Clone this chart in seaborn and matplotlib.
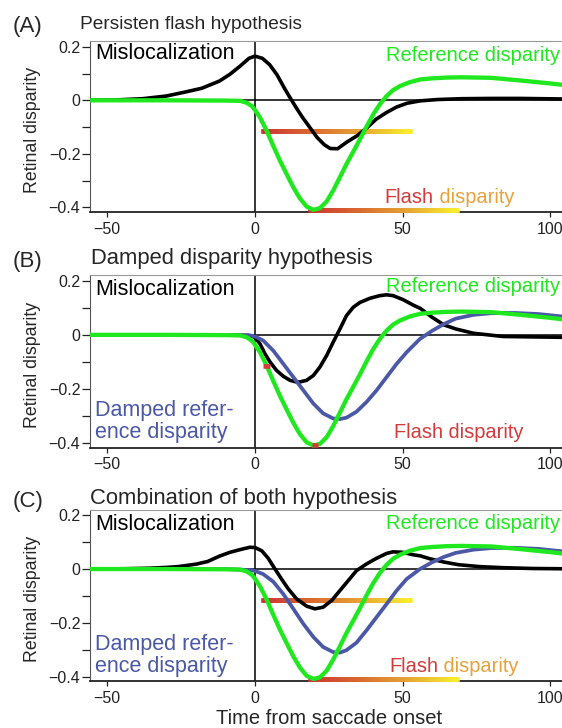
import numpy as np
import matplotlib
matplotlib.use("Agg")
import matplotlib.pyplot as plt
import seaborn as sns
from matplotlib.collections import LineCollection
from matplotlib.colors import LinearSegmentedColormap

# --- data (time in ms from saccade onset) ---
x_ticks = [-50, 0, 50, 100]
x_tick_labels = ["\u221250", "0", "50", "100"]
y_ticks = [-0.4, -0.3, -0.2, -0.1, 0, 0.1, 0.2]
y_tick_labels = ["\u22120.4", "", "\u22120.2", "", "0", "", "0.2"]

# reference disparity (same curve in all three panels)
ref_t = [-56, -30, -10, -5, -2.8, -1, 0, 1.7, 4, 6.2, 8.5, 10.7, 13, 15.2, 17.5, 19.8, 22, 24.3, 26.5, 28.8,
         31, 33.3, 35.6, 37.8, 40.1, 42.3, 44.6, 46.8, 49.1, 52.5, 56, 60, 65, 70, 80, 90, 100, 104]
ref_v = [0, 0, -0.001, -0.002, -0.009, -0.022, -0.036, -0.064, -0.114, -0.17, -0.226, -0.275, -0.325, -0.366,
         -0.397, -0.409, -0.403, -0.378, -0.337, -0.287, -0.238, -0.192, -0.145, -0.098, -0.052, -0.015, 0.016,
         0.038, 0.053, 0.068, 0.078, 0.082, 0.085, 0.086, 0.084, 0.074, 0.063, 0.058]

# mislocalization, panel A
misA_t = [-56, -46, -38, -30, -24, -18, -12, -8.5, -5, -2, 0, 2.5, 5, 7.5, 10, 12, 14, 16, 18.5, 21,
          23.5, 25.5, 28, 31, 34.5, 38, 41, 44.5, 48, 51.5, 56, 62, 70, 80, 90, 104]
misA_v = [0, 0.002, 0.006, 0.016, 0.03, 0.045, 0.072, 0.097, 0.128, 0.157, 0.165, 0.157, 0.133, 0.095, 0.045,
          0.008, -0.028, -0.062, -0.1, -0.138, -0.166, -0.18, -0.181, -0.157, -0.133, -0.102, -0.071, -0.046,
          -0.025, -0.011, -0.002, 0.003, 0.006, 0.007, 0.007, 0.005]

# mislocalization, panel B
misB_t = [-56, -10, -2, 0, 1.7, 3.4, 5.1, 7.3, 9.6, 11.9, 14, 15.2, 17.5, 19.8, 22, 24.3, 26.5, 28.8, 31, 33.3,
          35.6, 38.9, 42.3, 44.6, 46.8, 50.2, 53.6, 56, 60, 64, 68, 74, 84, 104]
misB_v = [0, 0, -0.002, -0.009, -0.033, -0.07, -0.1, -0.131, -0.153, -0.168, -0.174, -0.174, -0.168, -0.15,
          -0.119, -0.076, -0.027, 0.022, 0.071, 0.102, 0.12, 0.135, 0.145, 0.148, 0.145, 0.13, 0.11, 0.098,
          0.065, 0.037, 0.022, 0.006, -0.006, -0.009]

# mislocalization, panel C
misC_t = [-56, -44, -36, -30, -26, -20, -16, -12, -8.5, -5.1, -1.7, 0, 2.3, 4.5, 6.8, 9, 11.3, 14.1, 17.5, 20.3,
          23.1, 26, 28.8, 31.6, 34.4, 37.8, 41.2, 44.6, 46.8, 50.2, 53.6, 56, 59.3, 64, 69, 76, 84, 94, 104]
misC_v = [0, 0.001, 0.003, 0.006, 0.009, 0.018, 0.028, 0.048, 0.062, 0.072, 0.081, 0.08, 0.068, 0.04, 0.0,
          -0.037, -0.074, -0.111, -0.138, -0.148, -0.142, -0.117, -0.08, -0.043, -0.006, 0.019, 0.04, 0.058,
          0.064, 0.062, 0.053, 0.049, 0.038, 0.026, 0.016, 0.009, 0.005, 0.002, 0.001]

# damped reference disparity, panels B and C
dampB_t = [-56, -10, -1.7, 0, 2.8, 6.2, 9.6, 13, 16.4, 19.8, 23.1, 26.5, 28.8, 31, 34.4, 37.8, 41.2, 44.6, 48,
           51.4, 55.9, 60, 64, 68, 74, 80, 88, 96, 104]
dampB_v = [0, 0, -0.002, -0.006, -0.021, -0.058, -0.107, -0.156, -0.205, -0.254, -0.29, -0.309, -0.311, -0.306,
           -0.284, -0.248, -0.205, -0.156, -0.107, -0.064, -0.015, 0.015, 0.04, 0.06, 0.074, 0.08, 0.081, 0.077,
           0.068]
dampC_t = dampB_t
dampC_v = [0, 0, -0.004, -0.007, -0.019, -0.047, -0.093, -0.148, -0.204, -0.253, -0.29, -0.309, -0.311, -0.302,
           -0.274, -0.228, -0.179, -0.13, -0.08, -0.037, 0.0, 0.025, 0.045, 0.06, 0.072, 0.078, 0.079, 0.075,
           0.066]

# flash disparity bars: start, end, level
persist_start = [2.8, 18.6]
persist_end = [52.5, 68.4]
persist_level = [-0.114, -0.409]
brief_start = [2.8, 19.2]
brief_end = [5.1, 21.2]
brief_level = [-0.115, -0.408]

GREEN = "#1fe81f"
BLUE = "#4a58a6"
RED = "#d43a3a"
ORANGE = "#e8a23a"
flash_cmap = LinearSegmentedColormap.from_list(
    "flash", ["#cc3333", "#d9692f", "#e6a233", "#f8ec2c"])

sns.set_style("ticks")
plt.rcParams["font.family"] = ["Liberation Sans", "DejaVu Sans"]

fig = plt.figure(figsize=(5.62, 7.28), dpi=100)

panels = [
    dict(letter="(A)", title="Persisten flash hypothesis", tsize=13.8, rect=[0.1594, 0.7089, 0.8406, 0.2342],
         head_y=0.9602, title_x=0.1423, mis=(misA_t, misA_v), damp=None, persist=True,
         mis_y=0.153, ref_y=0.148, flash_x=44.0, two_tone=True),
    dict(letter="(B)", title="Damped disparity hypothesis", tsize=15.8, rect=[0.1594, 0.385, 0.8406, 0.2368],
         head_y=0.6374, title_x=0.1626, mis=(misB_t, misB_v), damp=(dampB_t, dampB_v), persist=False,
         mis_y=0.147, ref_y=0.157, flash_x=47.1, two_tone=False),
    dict(letter="(C)", title="Combination of both hypothesis", tsize=15.8, rect=[0.1594, 0.0644, 0.8406, 0.2352],
         head_y=0.3077, title_x=0.1594, mis=(misC_t, misC_v), damp=(dampC_t, dampC_v), persist=True,
         mis_y=0.146, ref_y=0.149, flash_x=45.4, two_tone=True),
]


def flash_bar(ax, t0, t1, level):
    # red -> orange -> yellow bar, built from short overlapping pieces
    xs = np.linspace(t0, t1, 120)
    ys = np.full_like(xs, level)
    pts = np.column_stack([xs, ys])
    segs = np.stack([pts[:-1], pts[1:]], axis=1)
    lc = LineCollection(segs, colors=flash_cmap(np.linspace(0, 1, len(segs))),
                        linewidths=3.3, capstyle="projecting", zorder=2.7, clip_on=False)
    ax.add_collection(lc)


for p in panels:
    ax = fig.add_axes(p["rect"])
    ax.axhline(0, color="black", lw=1.1, zorder=1)
    ax.axvline(0, color="black", lw=1.1, zorder=1)

    if p["persist"]:
        for s, e, lv in zip(persist_start, persist_end, persist_level):
            flash_bar(ax, s, e, lv)

    mt, mv = p["mis"]
    sns.lineplot(x=mt, y=mv, ax=ax, color="black", lw=2.6, estimator=None, zorder=3)
    if p["damp"] is not None:
        dt, dv = p["damp"]
        sns.lineplot(x=dt, y=dv, ax=ax, color=BLUE, lw=2.7, estimator=None, zorder=4)
    sns.lineplot(x=ref_t, y=ref_v, ax=ax, color=GREEN, lw=3.1, estimator=None, zorder=5)

    if not p["persist"]:
        for s, e, lv in zip(brief_start, brief_end, brief_level):
            ax.plot([s, e], [lv, lv], color=RED, lw=3.3, solid_capstyle="butt", zorder=6, clip_on=False)

    ax.set_xlim(-56, 104)
    ax.set_ylim(-0.417, 0.22)
    ax.set_xticks(x_ticks)
    ax.set_xticklabels(x_tick_labels)
    ax.set_yticks(y_ticks)
    ax.set_yticklabels(y_tick_labels)
    ax.tick_params(axis="y", direction="out", length=5.5, width=0.9, pad=1.2, labelsize=11.5, colors="#222222")
    ax.tick_params(axis="x", direction="out", length=3.5, width=0.9, pad=3.5, labelsize=11.5, colors="#222222")
    ax.spines["right"].set_visible(False)
    ax.spines["top"].set_color("#999999")
    ax.spines["left"].set_color("#555555")
    ax.spines["bottom"].set_color("#222222")
    ax.spines["bottom"].set_linewidth(1.3)
    ax.set_xlabel("")
    ax.set_ylabel("Retinal disparity", fontsize=12.8)
    ax.yaxis.set_label_coords(-0.103, 0.48)

    # annotations
    ax.text(-54.2, p["mis_y"], "Mislocalization", fontsize=15.5, color="black", va="baseline")
    ax.text(103.2, p["ref_y"], "Reference disparity", fontsize=14.5, color=GREEN, ha="right", va="baseline")
    if p["damp"] is not None:
        ax.text(-54.2, -0.40, "Damped refer-\nence disparity", fontsize=15.5, color=BLUE,
                va="bottom", linespacing=1.05)
    if p["two_tone"]:
        t1 = ax.text(p["flash_x"], -0.382, "Flash", fontsize=14.4, color=RED, va="baseline")
        ax.annotate(" disparity", xy=(1, 0), xycoords=t1, fontsize=14.4, color=ORANGE, va="bottom")
    else:
        ax.text(p["flash_x"], -0.382, "Flash disparity", fontsize=14.4, color=RED, va="baseline")

    fig.text(0.0231, p["head_y"] - 0.0046, p["letter"], fontsize=16, va="baseline")
    fig.text(p["title_x"], p["head_y"], p["title"], fontsize=p["tsize"], va="baseline")

fig.text(0.5854, 0.0, "Time from saccade onset", fontsize=14.5, ha="center", va="bottom")

plt.savefig("out.png", dpi=100)
